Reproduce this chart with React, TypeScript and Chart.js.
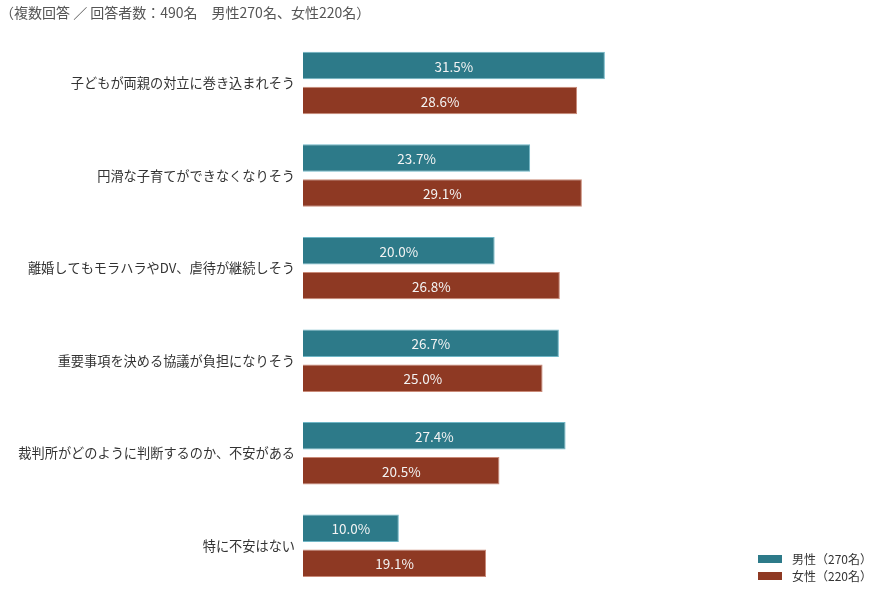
import React, { useEffect, useRef } from "react";
import { Chart, registerables } from "chart.js";

Chart.register(...registerables);

const titleText = "（複数回答 ／ 回答者数：490名　男性270名、女性220名）";
const categories = [
  "子どもが両親の対立に巻き込まれそう",
  "円滑な子育てができなくなりそう",
  "離婚してもモラハラやDV、虐待が継続しそう",
  "重要事項を決める協議が負担になりそう",
  "裁判所がどのように判断するのか、不安がある",
  "特に不安はない",
];
const maleLabel = "男性（270名）";
const femaleLabel = "女性（220名）";
const maleValues = [31.5, 23.7, 20.0, 26.7, 27.4, 10.0];
const femaleValues = [28.6, 29.1, 26.8, 25.0, 20.5, 19.1];

const FONT = '"Noto Sans CJK JP", "Noto Sans", sans-serif';
const TEAL = "#2d7a89";
const TEAL_BORDER = "#6fb6c6";
const RED = "#8e3923";
const RED_BORDER = "#c98a78";

const valueLabelPlugin = {
  id: "valueLabels",
  afterDatasetsDraw(chart: any) {
    const ctx = chart.ctx;
    ctx.save();
    ctx.font = `13.5px ${FONT}`;
    ctx.fillStyle = "#f3f3f3";
    ctx.textAlign = "center";
    ctx.textBaseline = "middle";
    chart.data.datasets.forEach((ds: any, i: number) => {
      const meta = chart.getDatasetMeta(i);
      meta.data.forEach((el: any, j: number) => {
        const v = ds.data[j];
        const cx = (el.x + el.base) / 2;
        ctx.fillText(v.toFixed(1) + "%", cx, el.y + 1);
      });
    });
    ctx.restore();
  },
};

const customLegendPlugin = {
  id: "customLegend",
  afterDraw(chart: any) {
    const ctx = chart.ctx;
    ctx.save();
    ctx.font = `12px ${FONT}`;
    ctx.textBaseline = "middle";
    ctx.textAlign = "left";
    const x0 = 758;
    const rows = [559, 576];
    chart.data.datasets.forEach((ds: any, i: number) => {
      const y = rows[i];
      ctx.fillStyle = ds.backgroundColor;
      ctx.fillRect(x0, y - 4, 24, 8);
      ctx.fillStyle = "#333";
      ctx.fillText(ds.label, x0 + 34, y);
    });
    ctx.restore();
  },
};

export default function App() {
  const ref = useRef<HTMLCanvasElement | null>(null);
  useEffect(() => {
    if (!ref.current) return;
    const chart = new Chart(ref.current, {
      type: "bar",
      data: {
        labels: categories,
        datasets: [
          {
            label: maleLabel,
            data: maleValues,
            backgroundColor: TEAL,
            borderColor: TEAL_BORDER,
            borderWidth: 1,
            categoryPercentage: 0.756,
            barPercentage: 0.786,
          },
          {
            label: femaleLabel,
            data: femaleValues,
            backgroundColor: RED,
            borderColor: RED_BORDER,
            borderWidth: 1,
            categoryPercentage: 0.756,
            barPercentage: 0.786,
          },
        ],
      },
      options: {
        indexAxis: "y",
        animation: false,
        responsive: false,
        maintainAspectRatio: false,
        layout: { padding: { left: 0, right: 8, top: 0, bottom: 8 } },
        plugins: {
          legend: { display: false },
          tooltip: { enabled: false },
          title: {
            display: true,
            text: titleText,
            align: "start",
            color: "#555",
            font: { family: FONT, size: 14, weight: "normal" },
            padding: { top: 4, bottom: 16 },
          },
        },
        scales: {
          x: {
            display: false,
            min: 0,
            max: 60,
          },
          y: {
            grid: { display: false, drawTicks: false },
            border: { display: false },
            ticks: {
              color: "#333",
              padding: 8,
              font: { family: FONT, size: 13.2 },
            },
            afterFit(scale: any) {
              scale.width = 303;
              scale.paddingTop = 0;
              scale.paddingBottom = 0;
            },
          },
        },
      },
      plugins: [valueLabelPlugin, customLegendPlugin],
    } as any);
    return () => chart.destroy();
  }, []);
  return (
    <div style={{ position: "fixed", left: 0, top: 0, width: 886, height: 600, background: "#fff" }}>
      <canvas ref={ref} width={886} height={600} style={{ display: "block", width: 886, height: 600 }} />
    </div>
  );
}
